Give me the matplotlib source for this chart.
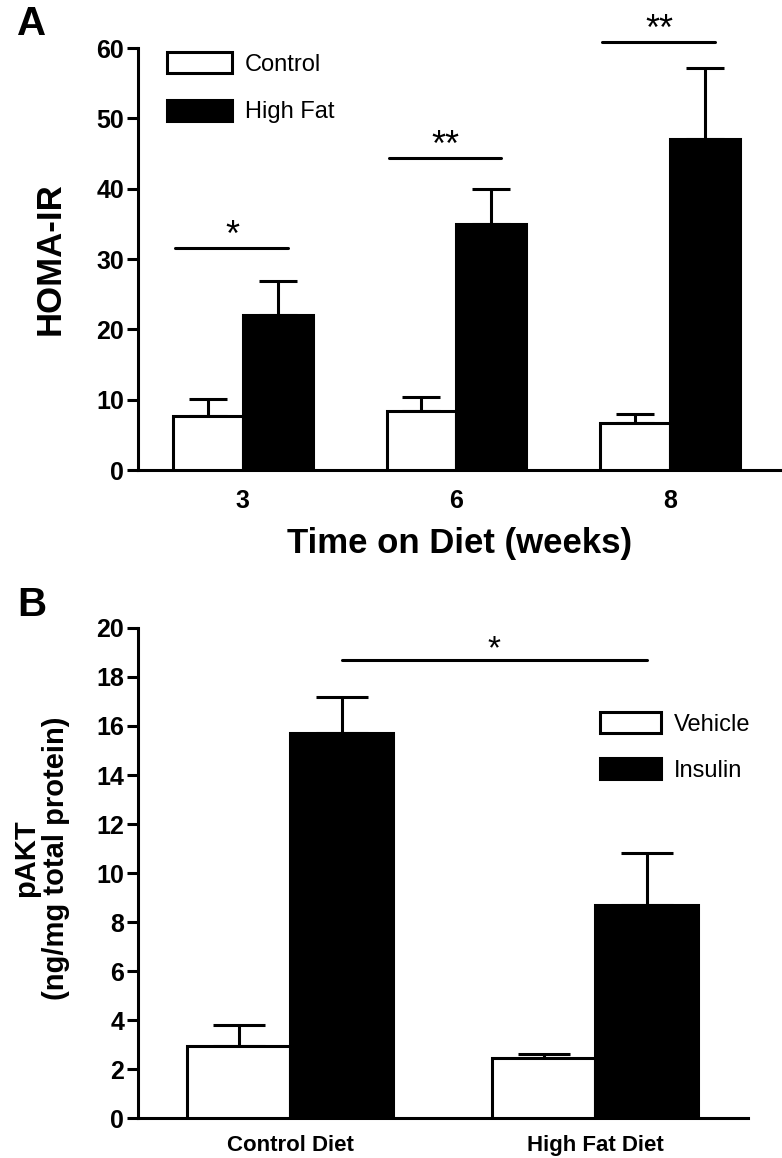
import numpy as np
import matplotlib
matplotlib.use('Agg')
import matplotlib.pyplot as plt
from matplotlib.patches import Patch

plt.rcParams['font.family'] = ['Liberation Sans', 'DejaVu Sans']

# panel A: HOMA-IR
weeks = ['3', '6', '8']
control = [7.7, 8.4, 6.7]
control_sem = [2.4, 2.0, 1.3]
high_fat = [22.0, 35.0, 47.1]
high_fat_sem = [4.9, 5.0, 10.1]
sig_a_height = [31.6, 44.4, 60.9]
sig_a_label = ['*', '**', '**']

# panel B: pAKT
diets = ['Control Diet', 'High Fat Diet']
vehicle = [2.95, 2.45]
vehicle_sem = [0.85, 0.17]
insulin = [15.7, 8.7]
insulin_sem = [1.5, 2.1]
sig_b_height = 18.7

LW = 2.2

fig = plt.figure(figsize=(7.82, 11.58), dpi=100)
axA = fig.add_axes([0.1765, 0.5941, 0.8225, 0.3644])
axB = fig.add_axes([0.1765, 0.0345, 0.78, 0.4232])


def style(ax):
    for s in ['top', 'right']:
        ax.spines[s].set_visible(False)
    for s in ['left', 'bottom']:
        ax.spines[s].set_linewidth(LW)
    ax.tick_params(axis='y', length=8, width=LW, pad=2, labelsize=18)
    ax.tick_params(axis='x', length=0, labelsize=18)
    for lab in ax.get_yticklabels() + ax.get_xticklabels():
        lab.set_fontweight('bold')


# ---- A ----
x = np.arange(len(weeks))
w = 0.327
axA.bar(x - w / 2, control, w, color='white', edgecolor='black', linewidth=LW, zorder=3)
axA.bar(x + w / 2, high_fat, w, color='black', edgecolor='black', linewidth=LW, zorder=3)
axA.errorbar(x - w / 2, control, yerr=[np.zeros(3), control_sem], fmt='none', ecolor='black',
             elinewidth=LW, capsize=13.7, capthick=LW, zorder=2)
axA.errorbar(x + w / 2, high_fat, yerr=[np.zeros(3), high_fat_sem], fmt='none', ecolor='black',
             elinewidth=LW, capsize=13.7, capthick=LW, zorder=2)
for xi, h, lab in zip(x, sig_a_height, sig_a_label):
    axA.plot([xi - w + 0.01, xi + 0.21], [h, h], color='black', lw=LW,
             solid_capstyle='round', clip_on=False)
    axA.annotate(lab, (xi - 0.05, h), xytext=(0, 1), textcoords='offset points',
                 ha='center', va='baseline', fontsize=26, annotation_clip=False)
axA.set_xlim(-0.49, 2.52)
axA.set_ylim(0, 60)
axA.set_yticks(range(0, 61, 10))
axA.set_xticks(x)
axA.set_xticklabels(weeks)
axA.tick_params(axis='x', pad=14)
style(axA)
axA.set_xlabel('Time on Diet (weeks)', fontsize=25, fontweight='bold', labelpad=10)
axA.legend(handles=[Patch(facecolor='white', edgecolor='black', linewidth=LW, label='Control'),
                    Patch(facecolor='black', edgecolor='black', linewidth=LW, label='High Fat')],
           loc='upper left', bbox_to_anchor=(0.045, 0.99), frameon=False, fontsize=17,
           handlelength=2.75, handleheight=1.0, handletextpad=0.55, labelspacing=1.0,
           borderpad=0, borderaxespad=0)
fig.text(50 / 782, 1 - 259 / 1158, 'HOMA-IR', rotation=90, ha='center', va='center',
         fontsize=25, fontweight='bold')
fig.text(17 / 782, 1 - 5 / 1158, 'A', ha='left', va='top', fontsize=29, fontweight='bold')

# ---- B ----
xb = np.arange(len(diets))
wb = 0.338
axB.bar(xb - wb / 2, vehicle, wb, color='white', edgecolor='black', linewidth=LW, zorder=3)
axB.bar(xb + wb / 2, insulin, wb, color='black', edgecolor='black', linewidth=LW, zorder=3)
axB.errorbar(xb - wb / 2, vehicle, yerr=[np.zeros(2), vehicle_sem], fmt='none', ecolor='black',
             elinewidth=LW, capsize=19, capthick=LW, zorder=2)
axB.errorbar(xb + wb / 2, insulin, yerr=[np.zeros(2), insulin_sem], fmt='none', ecolor='black',
             elinewidth=LW, capsize=19, capthick=LW, zorder=2)
axB.plot([xb[0] + wb / 2, xb[1] + wb / 2], [sig_b_height, sig_b_height], color='black', lw=LW,
         solid_capstyle='round')
axB.annotate('*', ((xb[0] + xb[1]) / 2 + wb / 2, sig_b_height), xytext=(0, 1),
             textcoords='offset points', ha='center', va='baseline', fontsize=24)
axB.set_xlim(-0.5, 1.502)
axB.set_ylim(0, 20)
axB.set_yticks(range(0, 21, 2))
axB.set_xticks(xb)
axB.set_xticklabels(diets)
style(axB)
axB.tick_params(axis='x', labelsize=16, pad=12)
axB.legend(handles=[Patch(facecolor='white', edgecolor='black', linewidth=LW, label='Vehicle'),
                    Patch(facecolor='black', edgecolor='black', linewidth=LW, label='Insulin')],
           loc='upper left', bbox_to_anchor=(0.757, 0.828), frameon=False, fontsize=17,
           handlelength=2.6, handleheight=1.0, handletextpad=0.55, labelspacing=0.95,
           borderpad=0, borderaxespad=0)
fig.text(41 / 782, 1 - 858 / 1158, 'pAKT\n(ng/mg total protein)', rotation=90, ha='center',
         va='center', multialignment='center', fontsize=21, fontweight='bold', linespacing=1.05)
fig.text(17 / 782, 1 - 586 / 1158, 'B', ha='left', va='top', fontsize=29, fontweight='bold')

fig.savefig('out.png', dpi=100)
